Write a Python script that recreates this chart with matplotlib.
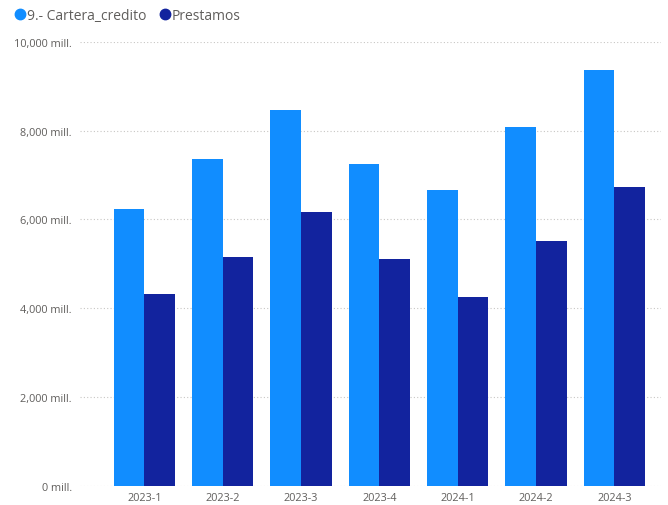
import matplotlib.pyplot as plt
import numpy as np
from matplotlib.lines import Line2D
from matplotlib.ticker import FuncFormatter

# data (millions)
periods = ['2023-1', '2023-2', '2023-3', '2023-4', '2024-1', '2024-2', '2024-3']
cartera = [6240, 7354, 8475, 7242, 6659, 8072, 9372]
prestamos = [4327, 5157, 6166, 5112, 4260, 5516, 6726]
series_names = ['9.- Cartera_credito', 'Prestamos']
colors = ['#118DFF', '#12239E']

plt.rcParams['font.family'] = ['Open Sans', 'DejaVu Sans']

fig = plt.figure(figsize=(6.68, 5.06), dpi=100)
ax = fig.add_axes([0.12, 0.0375, 0.87, 0.878])

x = np.arange(len(periods))
w = 0.39
ax.bar(x - w / 2, cartera, width=w, color=colors[0], zorder=3)
ax.bar(x + w / 2, prestamos, width=w, color=colors[1], zorder=3)

ax.set_ylim(0, 10000)
ax.set_xlim(-0.82, 6.6)
ax.set_yticks(range(0, 10001, 2000))
ax.yaxis.set_major_formatter(FuncFormatter(lambda v, p: f'{v:,.0f} mill.'))
ax.set_xticks(x)
ax.set_xticklabels(periods)
ax.tick_params(axis='both', length=0, labelsize=7.8, colors='#605E5C')
ax.tick_params(axis='y', pad=6)
ax.tick_params(axis='x', pad=4)
ax.grid(axis='y', linestyle=(0, (1, 2)), color='#C8C6C4', linewidth=0.8, zorder=0)
for s in ax.spines.values():
    s.set_visible(False)

handles = [Line2D([], [], marker='o', linestyle='', markersize=7.5, color=c) for c in colors]
fig.legend(handles, series_names, loc='upper left', bbox_to_anchor=(0.0, 1.0),
           ncol=2, frameon=False, fontsize=10, handletextpad=-0.3, handlelength=1.6,
           columnspacing=0.5, labelcolor='#605E5C', borderaxespad=0.25)

fig.savefig('out.png', dpi=100)
